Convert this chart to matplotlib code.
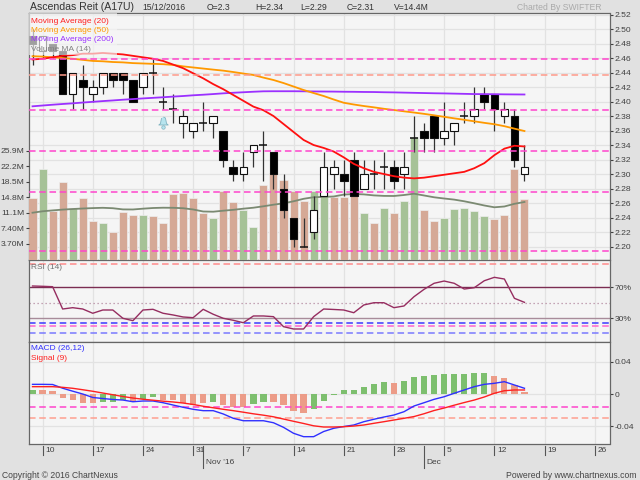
import numpy as np
import pandas as pd
import matplotlib
matplotlib.use('Agg')
import matplotlib.pyplot as plt
import matplotlib.transforms as mtrans
from matplotlib.patches import Rectangle

plt.rcParams['font.family'] = ['Liberation Sans', 'DejaVu Sans']

# trading calendar (the chart leaves empty days on the right)
days = pd.bdate_range('2016-10-07', '2016-12-30')
n = 50   # days with data: 07 Oct .. 15 Dec 2016

opens = [2.49, 2.47, 2.48, 2.47, 2.41, 2.43, 2.41, 2.42, 2.44, 2.44,
         2.43, 2.42, 2.44, 2.40, 2.39, 2.37, 2.36, 2.37, 2.37, 2.36,
         2.31, 2.30, 2.33, 2.34, 2.33, 2.28, 2.24, 2.20, 2.22, 2.27,
         2.30, 2.30, 2.32, 2.28, 2.30, 2.31, 2.31, 2.30, 2.35, 2.36,
         2.38, 2.35, 2.36, 2.38, 2.38, 2.41, 2.41, 2.38, 2.38, 2.30]
highs = [2.50, 2.49, 2.48, 2.47, 2.44, 2.45, 2.43, 2.44, 2.44, 2.44,
         2.43, 2.44, 2.46, 2.42, 2.41, 2.39, 2.37, 2.40, 2.38, 2.36,
         2.32, 2.33, 2.34, 2.36, 2.33, 2.30, 2.24, 2.24, 2.27, 2.33,
         2.32, 2.32, 2.33, 2.32, 2.32, 2.33, 2.32, 2.33, 2.38, 2.37,
         2.38, 2.40, 2.37, 2.40, 2.42, 2.42, 2.41, 2.40, 2.39, 2.34]
lows = [2.45, 2.46, 2.46, 2.41, 2.39, 2.39, 2.40, 2.41, 2.42, 2.41,
        2.40, 2.41, 2.41, 2.39, 2.37, 2.35, 2.35, 2.36, 2.35, 2.31,
        2.29, 2.29, 2.31, 2.29, 2.28, 2.24, 2.20, 2.20, 2.21, 2.27,
        2.28, 2.27, 2.27, 2.28, 2.28, 2.28, 2.28, 2.28, 2.33, 2.33,
        2.33, 2.34, 2.34, 2.37, 2.37, 2.39, 2.36, 2.37, 2.31, 2.29]
closes = [2.48, 2.49, 2.47, 2.41, 2.44, 2.42, 2.42, 2.44, 2.43, 2.43,
          2.40, 2.44, 2.44, 2.40, 2.39, 2.38, 2.37, 2.37, 2.38, 2.32,
          2.30, 2.31, 2.34, 2.34, 2.30, 2.25, 2.21, 2.20, 2.25, 2.31,
          2.31, 2.29, 2.27, 2.30, 2.30, 2.31, 2.29, 2.31, 2.35, 2.35,
          2.35, 2.36, 2.37, 2.38, 2.39, 2.40, 2.39, 2.39, 2.32, 2.31]
prev_close = 2.49

volume = [14.7, 21.5, 11.6, 18.4, 12.2, 14.7, 9.2, 8.8, 6.5, 11.4,
          10.6, 10.6, 10.3, 8.8, 15.7, 15.8, 14.6, 11.1, 9.9, 16.4,
          13.6, 11.8, 7.7, 17.7, 20.5, 18.9, 16.3, 13.8, 16.4, 15.8,
          14.8, 14.8, 16.1, 11.1, 8.8, 12.2, 11.0, 13.8, 29.2, 11.8,
          9.2, 9.8, 11.9, 12.3, 11.6, 10.3, 9.6, 10.7, 21.5, 14.4]   # millions
vol_ma14 = [11.13, 11.47, 11.68, 11.87, 12.01, 12.13, 12.23, 12.30, 12.20, 11.92,
            11.90, 12.09, 12.25, 12.32, 12.30, 12.20, 11.90, 11.42, 11.37, 11.61,
            11.82, 12.09, 12.32, 12.66, 13.04, 13.37, 13.85, 14.44, 14.82, 14.89,
            14.99, 15.44, 15.58, 15.49, 15.25, 15.13, 15.11, 15.34, 15.65, 15.23,
            14.80, 14.51, 14.25, 13.85, 13.37, 12.85, 12.42, 12.61, 13.25, 13.68]

ma20 = [2.458, 2.459, 2.461, 2.463, 2.464, 2.466, 2.466, 2.467, 2.466, 2.465,
        2.463, 2.461, 2.459, 2.456, 2.451, 2.446, 2.439, 2.432, 2.424, 2.417,
        2.409, 2.401, 2.393, 2.388, 2.380, 2.369, 2.358, 2.347, 2.340, 2.336,
        2.331, 2.323, 2.314, 2.308, 2.303, 2.300, 2.297, 2.295, 2.294, 2.295,
        2.297, 2.299, 2.301, 2.303, 2.308, 2.315, 2.326, 2.335, 2.339, 2.338]
ma50 = [2.4625, 2.462, 2.461, 2.460, 2.459, 2.4575, 2.456, 2.4555, 2.4545, 2.454,
        2.453, 2.4525, 2.452, 2.4515, 2.4505, 2.4485, 2.447, 2.4455, 2.444, 2.4426,
        2.4407, 2.4386, 2.4366, 2.433, 2.4297, 2.4255, 2.4207, 2.4159, 2.4117, 2.4076,
        2.4028, 2.3983, 2.3959, 2.3938, 2.392, 2.390, 2.3883, 2.3865, 2.3848, 2.383,
        2.381, 2.3789, 2.3768, 2.3748, 2.3727, 2.3706, 2.3687, 2.366, 2.3626, 2.3593]
ma200 = [2.3934, 2.3945, 2.3956, 2.3966, 2.3975, 2.3986, 2.3996, 2.4006, 2.4015, 2.4025,
         2.4034, 2.4043, 2.4051, 2.4059, 2.4068, 2.4076, 2.4086, 2.4094, 2.4103, 2.4113,
         2.4121, 2.4128, 2.4135, 2.4141, 2.4142, 2.4142, 2.4142, 2.4141, 2.4139, 2.4138,
         2.4137, 2.4135, 2.4134, 2.4132, 2.4131, 2.4128, 2.4126, 2.4123, 2.412, 2.4117,
         2.4114, 2.4112, 2.4109, 2.4106, 2.4103, 2.4102, 2.4101, 2.4099, 2.4098, 2.4097]

rsi14 = [71.7, 71.3, 70.8, 42.0, 43.7, 42.0, 36.5, 40.7, 40.7, 30.0,
         26.9, 40.7, 41.6, 36.5, 34.3, 31.7, 30.8, 41.6, 35.2, 30.0,
         27.4, 24.3, 33.0, 33.0, 32.1, 19.2, 16.2, 16.2, 32.1, 42.0,
         41.4, 40.7, 37.2, 47.2, 50.1, 50.1, 43.7, 45.9, 57.9, 67.4,
         75.2, 78.1, 75.2, 67.8, 69.5, 78.5, 82.9, 80.7, 55.8, 50.6]

macd = [0.0120, 0.0120, 0.0118, 0.0072, 0.0035, 0.0, -0.0043, -0.0056, -0.0068, -0.0075,
        -0.0096, -0.0087, -0.0087, -0.0108, -0.0137, -0.0165, -0.0190, -0.0207, -0.0207, -0.0248,
        -0.0302, -0.0332, -0.0332, -0.0332, -0.0357, -0.0414, -0.0488, -0.0530, -0.0530, -0.0466,
        -0.0426, -0.0404, -0.0385, -0.0344, -0.0314, -0.0286, -0.0261, -0.0220, -0.0149, -0.0108,
        -0.0066, -0.0034, 0.0009, 0.0050, 0.0091, 0.0120, 0.0133, 0.0153, 0.0112, 0.0071]
signal = [0.0091, 0.0091, 0.0091, 0.0083, 0.0071, 0.0053, 0.0034, 0.0012, -0.0009, -0.0031,
          -0.0050, -0.0065, -0.0077, -0.0089, -0.0099, -0.0112, -0.0130, -0.0152, -0.0171, -0.0190,
          -0.0207, -0.0226, -0.0246, -0.0263, -0.0283, -0.0311, -0.0339, -0.0366, -0.0395, -0.0410,
          -0.0410, -0.0406, -0.0398, -0.0385, -0.0364, -0.0344, -0.0323, -0.0302, -0.0280, -0.0245,
          -0.0205, -0.0174, -0.0139, -0.0106, -0.0075, -0.0037, 0.0009, 0.0041, 0.0050, 0.0050]
hist = [0.005, 0.005, 0.004, -0.0054, -0.0075, -0.0116, -0.0116, -0.010, -0.010, -0.0075,
        -0.0095, -0.0066, -0.004, -0.0075, -0.0075, -0.0108, -0.0137, -0.0108, -0.0095, -0.0137,
        -0.0158, -0.0166, -0.0124, -0.0104, -0.0095, -0.0137, -0.0207, -0.024, -0.019, -0.0083,
        -0.0015, 0.005, 0.005, 0.009, 0.012, 0.0145, 0.014, 0.016, 0.0207, 0.0228,
        0.0236, 0.0248, 0.0248, 0.0248, 0.0257, 0.0257, 0.0224, 0.0203, 0.011, 0.003]
hist_up = [1, 0, 0, 0, 0, 0, 0, 1, 1, 1, 0, 1, 1, 0, 0, 0, 0, 0, 1, 0,
           0, 0, 1, 1, 0, 0, 0, 0, 1, 1, 1, 1, 1, 1, 1, 1, 0, 1, 1, 1,
           1, 1, 1, 1, 1, 1, 0, 0, 0, 0]

# user drawn levels
pink_levels = [2.458, 2.388, 2.332, 2.275, 2.194]
salmon_level = 2.437
rsi_levels = [(99.7, '#ff8c8c'), (23.5, '#3a3aff'), (20.4, '#ff66cc'), (10.6, '#7a7aff')]
macd_levels = [(-0.0158, '#ff44cc'), (-0.0294, '#ff9f90')]
alert_pos, alert_price = 13, 2.372

BG = '#e1e1e1'
PANEL = '#f5f5f5'
GRID = '#e2e2e2'
EDGE = '#666666'
TXT = '#404040'
DASH = (0, (4.3, 2.4))

fig = plt.figure(figsize=(6.4, 4.8), dpi=100, facecolor=BG)
L, W = 29 / 640, 580.5 / 640
def fy(y):
    return 1 - y / 480
ax_p = fig.add_axes([L, fy(259.5), W, (259.5 - 13.3) / 480])
ax_r = fig.add_axes([L, fy(342), W, (342 - 259.5) / 480], sharex=ax_p)
ax_m = fig.add_axes([L, fy(444), W, (444 - 342) / 480], sharex=ax_p)

x = np.arange(n)
mondays = [i for i, d in enumerate(days) if d.weekday() == 0]
monday_labels = [str(days[i].day) for i in mondays]
month_starts = [(i, days[i].strftime("%b '%y") if days[i].month == 11 else days[i].strftime('%b'))
                for i in range(1, len(days)) if days[i].month != days[i - 1].month]

for a in (ax_p, ax_r, ax_m):
    a.set_facecolor(PANEL)
    for s in a.spines.values():
        s.set_color(EDGE)
        s.set_linewidth(0.9)
    a.set_xlim(-0.35, 57.47)
    a.set_xticks(mondays)
    a.tick_params(axis='x', length=0, labelbottom=False)
    a.grid(True, axis='x', color=GRID, lw=0.9)
    a.set_axisbelow(True)

# ---- price panel ----
pmin, pmax = 2.1821, 2.5217
ax_p.set_ylim(pmin, pmax)
pt = np.arange(2.20, 2.521, 0.02)
ax_p.set_yticks(pt)
ax_p.set_yticklabels(['%.2f' % v for v in pt])
ax_p.grid(True, axis='y', color=GRID, lw=0.9)

ax_v = ax_p.twinx()
ax_v.set_ylim(0, 58.57)
up = [closes[i] > (closes[i - 1] if i else prev_close) for i in range(n)]
vcol = ['#a6c297' if u else '#d5a996' for u in up]
ax_v.bar(x, volume, width=0.8, color=vcol, edgecolor='#eeeeee', linewidth=0.5)
ax_v.plot(x, vol_ma14, color='#7b8a72', lw=1.3)
vt = [3.7, 7.4, 11.1, 14.8, 18.5, 22.2, 25.9]
ax_v.set_yticks(vt)
ax_v.set_yticklabels(['3.70M', '7.40M', '11.1M', '14.8M', '18.5M', '22.2M', '25.9M'])
for s in ax_v.spines.values():
    s.set_visible(False)

ax_c = ax_p.twinx()
ax_c.set_ylim(pmin, pmax)
ax_c.set_axis_off()

# tick sides after all the twins exist
ax_p.yaxis.tick_right()
ax_v.yaxis.tick_left()
for a in (ax_p, ax_v, ax_r, ax_m):
    a.tick_params(axis='y', labelsize=6.1, colors=TXT, length=2, pad=1.5)

for i in range(n):
    o, h, l, c = opens[i], highs[i], lows[i], closes[i]
    ax_c.vlines(i, l, h, color='#333333', lw=0.9, zorder=2)
    if np.isclose(o, c):
        ax_c.hlines(o, i - 0.4, i + 0.4, color='#111111', lw=1.1, zorder=3)
    else:
        ax_c.add_patch(Rectangle((i - 0.38, min(o, c)), 0.76, abs(c - o),
                                 facecolor='black' if c < o else 'white',
                                 edgecolor='#111111', lw=0.8, zorder=3))
ax_c.plot(x, ma200, color='#9b30ff', lw=1.3, zorder=4)
ax_c.plot(x, ma50, color='#ff9900', lw=1.3, zorder=4)
ax_c.plot(x, ma20, color='#ff1010', lw=1.3, zorder=4)
for lv in pink_levels:
    ax_c.axhline(lv, color='#ff44cc', lw=1.1, ls=DASH, zorder=5)
ax_c.axhline(salmon_level, color='#ff9a8a', lw=1.1, ls=DASH, zorder=5)

bell = [(0, 1), (0.35, 0.8), (0.45, 0.3), (0.55, -0.2), (0.85, -0.45),
        (-0.85, -0.45), (-0.55, -0.2), (-0.45, 0.3), (-0.35, 0.8)]
ax_c.plot(alert_pos, alert_price, marker=bell, ms=8, mfc='#b7e4ee', mec='#7fb3c0', mew=0.6, zorder=6)
ax_c.plot(alert_pos, alert_price - 0.0065, marker='o', ms=2.5, mfc='#b7e4ee', mec='#7fb3c0', mew=0.5, zorder=6)

ax_c.add_patch(Rectangle((0, 0.83), 0.152, 0.17, transform=ax_c.transAxes,
                         facecolor=PANEL, alpha=0.65, lw=0, zorder=7))
leg = [('Moving Average (20)', '#ff2020'), ('Moving Average (50)', '#ff9900'),
       ('Moving Average (200)', '#9b30ff'), ('Volume MA (14)', '#808080')]
for k, (t, col) in enumerate(leg):
    ax_c.text(0.0035, 0.9687 - k * 0.0385, t, color=col, size=6, va='center',
              transform=ax_c.transAxes, zorder=8)

# ---- RSI panel ----
ax_r.set_ylim(-0.6, 105.9)
ax_r.axhline(70, color='#7b2d52', lw=1.0)
ax_r.axhline(30, color='#a88c9a', lw=1.0)
ax_r.axhline(50, color='#b58aa0', lw=0.9, ls=(0, (1, 2.2)))
for lv, col in rsi_levels:
    ax_r.axhline(lv, color=col, lw=1.1, ls=DASH)
ax_r.plot(x, rsi14, color='#962d60', lw=1.0)
ax_r.yaxis.tick_right()
ax_r.set_yticks([30, 70])
ax_r.set_yticklabels(['30%', '70%'])
ax_r.text(0.0035, 0.90, 'RSI (14)', color='#707070', size=6, va='center', transform=ax_r.transAxes)

# ---- MACD panel ----
ax_m.set_ylim(-0.0621, 0.0646)
ax_m.set_yticks([-0.04, 0, 0.04])
ax_m.set_yticklabels(['-0.04', '0', '0.04'])
ax_m.yaxis.tick_right()
ax_m.grid(True, axis='y', color=GRID, lw=0.9)
hcol = ['#7dbf6e' if u else '#ec9c88' for u in hist_up]
ax_m.bar(x, hist, width=0.62, color=hcol, lw=0)
for lv, col in macd_levels:
    ax_m.axhline(lv, color=col, lw=1.1, ls=DASH)
ax_m.plot(x, macd, color='#3030ff', lw=1.0)
ax_m.plot(x, signal, color='#ff2020', lw=1.0)
ax_m.text(0.0035, 0.941, 'MACD (26,12)', color='#3030ff', size=6, va='center', transform=ax_m.transAxes)
ax_m.text(0.0035, 0.843, 'Signal (9)', color='#ff2020', size=6, va='center', transform=ax_m.transAxes)

# date axis under the MACD panel
tr = mtrans.blended_transform_factory(ax_m.transData, ax_m.transAxes)
for p, lab in zip(mondays, monday_labels):
    if p > 57:
        continue
    ax_m.plot([p, p], [-0.02, -0.108], color='#555555', lw=0.8, transform=tr, clip_on=False)
    ax_m.text(p + 0.25, -0.068, lab, transform=tr, ha='left', va='center', size=6, color=TXT)
for p, lab in month_starts:
    if p > 57:
        continue
    ax_m.plot([p, p], [-0.02, -0.235], color='#555555', lw=0.8, transform=tr, clip_on=False)
    ax_m.text(p + 0.25, -0.186, lab, transform=tr, ha='left', va='center', size=6, color=TXT)

# header and footer
hy = fy(7)
fig.text(30 / 640, hy, 'Ascendas Reit (A17U)', size=7.6, color='#333333', va='center')
fig.text(142 / 640, hy, days[n - 1].strftime('%d/%m/%Y'), size=6.2, color='#333333', va='center')
fig.text(207 / 640, hy, 'O=%g' % opens[-1], size=6.2, color='#333333', va='center')
fig.text(255 / 640, hy, 'H=%g' % highs[-1], size=6.2, color='#333333', va='center')
fig.text(300 / 640, hy, 'L=%g' % lows[-1], size=6.2, color='#333333', va='center')
fig.text(347 / 640, hy, 'C=%g' % closes[-1], size=6.2, color='#333333', va='center')
fig.text(394 / 640, hy, 'V=%gM' % volume[-1], size=6.2, color='#333333', va='center')
fig.text(517 / 640, hy, 'Charted By SWIFTER', size=6.2, color='#aaaaaa', va='center')
fig.text(2 / 640, fy(475), 'Copyright \u00a9 2016 ChartNexus', size=6.2, color='#444444', va='center')
fig.text(637 / 640, fy(475), 'Powered by www.chartnexus.com', size=6.2, color='#444444',
         va='center', ha='right')

fig.savefig('out.png', dpi=100, facecolor=BG)
